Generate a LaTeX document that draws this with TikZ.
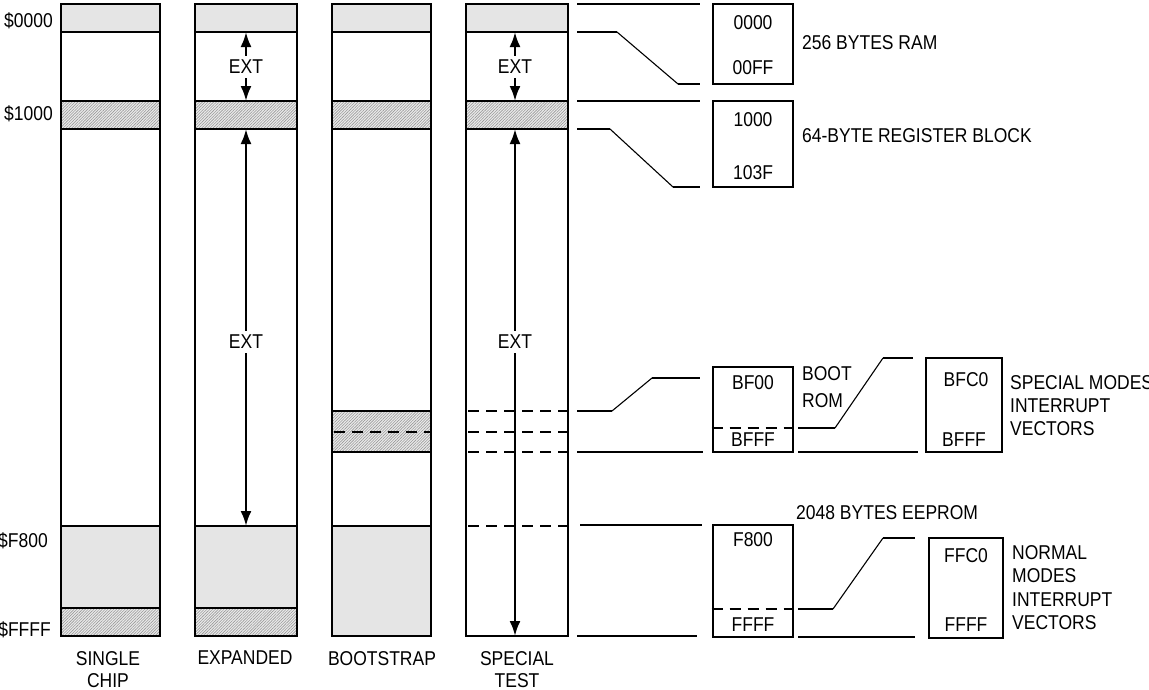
\documentclass[tikz,border=0pt]{standalone}
\usepackage{fontspec}
\setmainfont{Liberation Sans}[FakeStretch=0.875]
\usetikzlibrary{patterns.meta,arrows.meta}
\begin{document}
\begin{tikzpicture}[x=1pt,y=-1pt,
  lbl/.style={font=\fontsize{20}{23}\selectfont, inner sep=0pt},
  extl/.style={lbl, inner ysep=4pt},
  thickl/.style={line width=2.6pt},
  thinl/.style={line width=1.1pt},
  dashl/.style={line width=2.4pt, dash pattern=on 11pt off 7pt},
  graybox/.style={fill=black!10},
  hatchbox/.style={fill=black!8, postaction={pattern={Lines[angle=45,distance=2pt,line width=0.6pt]}, pattern color=black!40}},
  arr/.style={line width=2.4pt, -{Latex[length=15pt,width=11pt]}},
  mbox/.style={draw, line width=2.6pt, inner sep=0pt, minimum width=80pt},
]
\useasboundingbox (0,0) rectangle (1149,689);

% ---------- column 1: single chip
\fill[graybox] (61,4) rectangle (160,32);
\fill[hatchbox] (61,101) rectangle (160,129);
\fill[graybox] (61,526) rectangle (160,608);
\fill[hatchbox] (61,608) rectangle (160,636);
\draw[thickl] (61,4) rectangle (160,636);
\draw[thickl] (61,32)--(160,32) (61,101)--(160,101) (61,129)--(160,129) (61,526)--(160,526) (61,608)--(160,608);

% ---------- column 2: expanded
\fill[graybox] (195,4) rectangle (297,32);
\fill[hatchbox] (195,101) rectangle (297,129);
\fill[graybox] (195,526) rectangle (297,608);
\fill[hatchbox] (195,608) rectangle (297,636);
\draw[thickl] (195,4) rectangle (297,636);
\draw[thickl] (195,32)--(297,32) (195,101)--(297,101) (195,129)--(297,129) (195,526)--(297,526) (195,608)--(297,608);

% ---------- column 3: bootstrap
\fill[graybox] (332,4) rectangle (431,32);
\fill[hatchbox] (332,101) rectangle (431,129);
\fill[hatchbox] (332,411) rectangle (431,452);
\fill[graybox] (332,526) rectangle (431,636);
\draw[thickl] (332,4) rectangle (431,636);
\draw[thickl] (332,32)--(431,32) (332,101)--(431,101) (332,129)--(431,129) (332,411)--(431,411) (332,452)--(431,452) (332,526)--(431,526);
\draw[dashl] (334,432)--(431,432);

% ---------- column 4: special test
\fill[graybox] (466,4) rectangle (568,32);
\fill[hatchbox] (466,101) rectangle (568,129);
\draw[thickl] (466,4) rectangle (568,636);
\draw[thickl] (466,32)--(568,32) (466,101)--(568,101) (466,129)--(568,129);
\draw[dashl] (468,411)--(568,411) (468,432)--(568,432) (468,452)--(568,452) (468,526)--(568,526);

% ---------- EXT arrows
\coordinate (c2a) at (246,32);  \coordinate (c2b) at (246,101);
\coordinate (c2c) at (246,129); \coordinate (c2d) at (246,526);
\coordinate (c4a) at (515,32);  \coordinate (c4b) at (515,101);
\coordinate (c4c) at (515,129); \coordinate (c4d) at (515,636);
\node[extl] (e1) at (246,67) {EXT};
\node[extl] (e2) at (246,342) {EXT};
\node[extl] (e3) at (515,67) {EXT};
\node[extl] (e4) at (515,342) {EXT};
\draw[arr] (e1.north) -- (c2a);
\draw[arr] (e1.south) -- (c2b);
\draw[arr] (e2.north) -- (c2c);
\draw[arr] (e2.south) -- (c2d);
\draw[arr] (e3.north) -- (c4a);
\draw[arr] (e3.south) -- (c4b);
\draw[arr] (e4.north) -- (c4c);
\draw[arr] (e4.south) -- (c4d);

% ---------- address labels
\node[lbl, anchor=base east] (a0) at (53,27) {\$0000};
\node[lbl, anchor=base east] (a1) at (53,120) {\$1000};
\node[lbl, anchor=base east] (a2) at (48,547) {\$F800};
\node[lbl, anchor=base east] (a3) at (51,636) {\$FFFF};

% ---------- mode labels
\node[lbl, align=center, anchor=north, font=\fontsize{20}{22.5}\selectfont] (m1) at (108,651) {SINGLE\\CHIP};
\node[lbl, align=center, anchor=north] (m2) at (245,651) {EXPANDED};
\node[lbl, align=center, anchor=north] (m3) at (382,651) {BOOTSTRAP};
\node[lbl, align=center, anchor=north, font=\fontsize{20}{22.5}\selectfont] (m4) at (517,651) {SPECIAL\\TEST};

% ---------- detail boxes
\node[mbox, minimum height=80pt] (ram) at (753,44) {};
\node[mbox, minimum height=86pt] (reg) at (753,144) {};
\node[mbox, minimum height=85pt] (boot) at (753,409.5) {};
\node[mbox, minimum width=76pt, minimum height=94pt] (svec) at (964,405) {};
\node[mbox, minimum height=112pt] (eep) at (753,581) {};
\node[mbox, minimum width=74pt, minimum height=100pt] (nvec) at (966,588) {};

\draw[dashl] (boot.west |- 0,428) -- (boot.east |- 0,428);
\draw[dashl] (eep.west |- 0,609) -- (eep.east |- 0,609);

\node[lbl] (t1) at (753,23) {0000};
\node[lbl] (t2) at (753,68) {00FF};
\node[lbl, anchor=west] (t3) at (802,43) {256 BYTES RAM};
\node[lbl] (t4) at (753,119.5) {1000};
\node[lbl] (t5) at (753,173) {103F};
\node[lbl, anchor=west] (t6) at (802,136) {64-BYTE REGISTER BLOCK};
\node[lbl] (t7) at (753,383) {BF00};
\node[lbl] (t8) at (753,440) {BFFF};
\node[lbl, align=left, anchor=north west, font=\fontsize{20}{27}\selectfont] (t9) at (802,366) {BOOT\\ROM};
\node[lbl] (t10) at (966,380) {BFC0};
\node[lbl] (t11) at (964,440) {BFFF};
\node[lbl, align=left, anchor=north west] (t12) at (1010,375) {SPECIAL MODES\\INTERRUPT\\VECTORS};
\node[lbl, anchor=west] (t13) at (796,513) {2048 BYTES EEPROM};
\node[lbl] (t14) at (753,540) {F800};
\node[lbl] (t15) at (753,625) {FFFF};
\node[lbl] (t16) at (966,555.5) {FFC0};
\node[lbl] (t17) at (966,625) {FFFF};
\node[lbl, align=left, anchor=north west, font=\fontsize{20}{23.5}\selectfont] (t18) at (1012,545) {NORMAL\\MODES\\INTERRUPT\\VECTORS};

% ---------- expansion connectors
\coordinate (p1) at (577,4);   \coordinate (q1) at (700,4);
\coordinate (p2) at (577,32);  \coordinate (k2) at (617,32); \coordinate (l2) at (678,84); \coordinate (q2) at (700,84);
\coordinate (p3) at (577,101); \coordinate (q3) at (700,101);
\coordinate (p4) at (577,129); \coordinate (k4) at (610,129); \coordinate (l4) at (673,187); \coordinate (q4) at (700,187);
\coordinate (p5) at (577,411); \coordinate (k5) at (612,411); \coordinate (l5) at (652,378); \coordinate (q5) at (700,378);
\coordinate (p6) at (577,452); \coordinate (q6) at (703,452);
\coordinate (p7) at (798,428); \coordinate (k7) at (835,428); \coordinate (l7) at (883,358); \coordinate (q7) at (913,358);
\coordinate (p8) at (798,452); \coordinate (q8) at (918,452);
\coordinate (p9) at (580,525); \coordinate (q9) at (702,525);
\coordinate (p10) at (577,636); \coordinate (q10) at (697,636);
\coordinate (p11) at (798,609); \coordinate (k11) at (833,609); \coordinate (l11) at (883,538); \coordinate (q11) at (915,538);
\coordinate (p12) at (798,637); \coordinate (q12) at (915,637);

\draw[thickl] (p1) -- (q1);
\draw[thickl] (p2) -- (k2); \draw[thinl] (k2) -- (l2); \draw[thickl] (l2) -- (q2);
\draw[thickl] (p3) -- (q3);
\draw[thickl] (p4) -- (k4); \draw[thinl] (k4) -- (l4); \draw[thickl] (l4) -- (q4);
\draw[thickl] (p5) -- (k5); \draw[thinl] (k5) -- (l5); \draw[thickl] (l5) -- (q5);
\draw[thickl] (p6) -- (q6);
\draw[thickl] (p7) -- (k7); \draw[thinl] (k7) -- (l7); \draw[thickl] (l7) -- (q7);
\draw[thickl] (p8) -- (q8);
\draw[thickl] (p9) -- (q9);
\draw[thickl] (p10) -- (q10);
\draw[thickl] (p11) -- (k11); \draw[thinl] (k11) -- (l11); \draw[thickl] (l11) -- (q11);
\draw[thickl] (p12) -- (q12);
\end{tikzpicture}
\end{document}
